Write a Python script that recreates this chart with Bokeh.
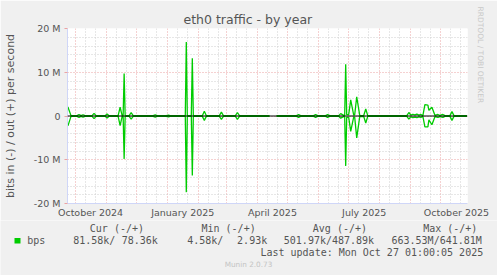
import numpy as np
import pandas as pd
from bokeh.plotting import figure
from bokeh.layouts import column
from bokeh.models import Range1d, FixedTicker, Span, Title, ColumnDataSource
from bokeh.core.properties import value
from bokeh.embed import file_html
from bokeh.resources import INLINE

# ---------------- data (daily averages, Mbit/s) ----------------
dates = [
    "2024-09-23", "2024-09-24", "2024-09-27", "2024-10-03", "2024-10-05", "2024-10-07",
    "2024-10-09", "2024-10-11", "2024-10-18", "2024-10-20", "2024-10-22", "2024-10-31",
    "2024-11-02", "2024-11-04", "2024-11-13", "2024-11-15", "2024-11-17", "2024-11-18",
    "2024-11-19", "2024-11-20", "2024-11-24", "2024-11-26", "2024-11-28", "2024-12-18",
    "2024-12-20", "2024-12-22", "2024-12-31", "2025-01-02", "2025-01-04", "2025-01-19",
    "2025-01-20", "2025-01-21", "2025-01-25", "2025-01-26", "2025-01-27", "2025-02-05",
    "2025-02-07", "2025-02-09", "2025-02-22", "2025-02-24", "2025-02-26", "2025-03-10",
    "2025-03-12", "2025-03-14", "2025-04-13", "2025-04-16", "2025-04-20", "2025-05-10",
    "2025-05-12", "2025-05-14", "2025-05-27", "2025-05-29", "2025-05-31", "2025-06-08",
    "2025-06-10", "2025-06-12", "2025-06-21", "2025-06-23", "2025-06-26", "2025-06-27",
    "2025-06-28", "2025-06-29", "2025-07-01", "2025-07-03", "2025-07-06", "2025-07-07",
    "2025-07-09", "2025-07-12", "2025-07-16", "2025-07-18", "2025-07-20", "2025-08-28",
    "2025-08-30", "2025-09-01", "2025-09-03", "2025-09-05", "2025-09-07", "2025-09-09",
    "2025-09-11", "2025-09-13", "2025-09-15", "2025-09-18", "2025-09-19", "2025-09-22",
    "2025-09-25", "2025-09-28", "2025-09-30", "2025-10-03", "2025-10-05", "2025-10-10",
    "2025-10-12", "2025-10-14", "2025-10-27",
]
out_mbps = [
    2.0, 2.0, 0.08, 0.08, 0.35, 0.08,
    0.28, 0.08, 0.08, 0.60, 0.08, 0.08,
    0.45, 0.08, 0.08, 2.0, 0.10, 0.10,
    9.7, 0.10, 0.08, 0.75, 0.08, 0.08,
    0.25, 0.08, 0.08, 0.20, 0.08, 0.08,
    16.9, 0.08, 0.08, 13.2, 0.08, 0.08,
    1.1, 0.08, 0.08, 0.9, 0.08, 0.08,
    0.8, 0.08, 0.08, np.nan, 0.08, 0.08,
    0.35, 0.08, 0.08, 0.35, 0.08, 0.08,
    0.35, 0.08, 0.08, 0.55, 0.15, 0.15,
    11.8, 0.30, 0.30, 3.7, 0.20, 0.30,
    4.4, 0.15, 0.10, 1.6, 0.08, 0.08,
    0.8, 0.2, 0.4, 0.25, 0.45, 0.2,
    0.35, 0.1, 2.6, 2.5, 1.3, 2.0,
    0.15, 0.35, 0.12, 0.35, 0.08, 0.08,
    1.0, 0.08, 0.08,
]
in_mbps = [
    2.2, 2.2, 0.08, 0.08, 0.30, 0.08,
    0.25, 0.08, 0.08, 0.60, 0.08, 0.08,
    0.45, 0.08, 0.08, 2.2, 0.10, 0.10,
    9.8, 0.10, 0.08, 0.70, 0.08, 0.08,
    0.25, 0.08, 0.08, 0.20, 0.08, 0.08,
    17.4, 0.08, 0.08, 13.6, 0.08, 0.08,
    1.0, 0.08, 0.08, 0.75, 0.08, 0.08,
    0.8, 0.08, 0.08, np.nan, 0.08, 0.08,
    0.30, 0.08, 0.08, 0.30, 0.08, 0.08,
    0.30, 0.08, 0.08, 0.50, 0.15, 0.15,
    11.4, 0.30, 0.30, 3.5, 0.20, 0.30,
    5.0, 0.15, 0.10, 1.6, 0.08, 0.08,
    0.7, 0.2, 0.4, 0.25, 0.4, 0.2,
    0.3, 0.1, 2.5, 2.5, 0.9, 2.0,
    0.15, 0.3, 0.12, 0.3, 0.08, 0.08,
    1.0, 0.08, 0.08,
]

x_start, x_end = "2024-09-23 12:00", "2025-10-27 12:00"
x_tick_dates = ["2024-10-16 12:00", "2025-01-16 12:00", "2025-04-16 00:00",
                "2025-07-16 12:00", "2025-10-16 12:00"]
x_tick_labels = ["October 2024", "January 2025", "April 2025", "July 2025", "October 2025"]
y_ticks = [-20e6, -10e6, 0.0, 10e6, 20e6]
y_tick_labels = ["-20 M", "-10 M", "0", "10 M", "20 M"]

title = "eth0 traffic - by year"
y_label = "bits in (-) / out (+) per second"
side_text = "RRDTOOL / TOBI OETIKER"
legend_headers = ["Cur (-/+)", "Min (-/+)", "Avg (-/+)", "Max (-/+)"]
legend_series = "bps"
legend_values = ["81.58k/", "78.36k", "4.58k/", "2.93k", "501.97k/487.89k", "663.53M/641.81M"]
last_update = "Last update: Mon Oct 27 01:00:05 2025"
footer = "Munin 2.0.73"


def ms(s):
    return pd.Timestamp(s).value / 1e6


GREEN = "#00cc00"
FONT_C = "#555555"
AXIS_C = "#CFD6F8"
MGRID_C = "#eba3a3"
GRID_C = "#cfcfcf"
BG = "#f0f0f0"

src = ColumnDataSource(dict(
    date=pd.to_datetime(dates),
    out=np.array(out_mbps) * 1e6,
    inn=-np.array(in_mbps) * 1e6,
))

# ---------------- main chart ----------------
p = figure(width=497, height=220, x_axis_type="datetime",
           x_range=Range1d(ms(x_start), ms(x_end)), y_range=Range1d(-20e6, 20e6),
           output_backend="svg", toolbar_location=None,
           min_border_left=67, min_border_right=30, min_border_top=28, min_border_bottom=17,
           background_fill_color="white", border_fill_color=BG, outline_line_color=None)
p.frame_align = False

p.title.text = title
p.title.align = "left"
p.title.offset = 116
p.title.vertical_align = "top"
p.title.standoff = 0
p.title.text_font = "DejaVu Sans"
p.title.text_font_size = "12.5px"
p.title.text_font_style = "normal"
p.title.text_color = FONT_C

p.add_layout(Title(text=side_text, align="left", offset=-22, text_font="DejaVu Sans",
                   text_font_size="7.5px", text_font_style="normal", text_color="#c8c8c8",
                   standoff=17), "right")

month_starts = [t.value / 1e6 for t in pd.date_range("2024-10-01", "2025-10-01", freq="MS")]
minor_x = []
for t in pd.date_range("2024-09-01", "2025-10-01", freq="MS"):
    for dday in (10, 20):
        minor_x.append((t + pd.Timedelta(days=dday)).value / 1e6)
p.xgrid.ticker = FixedTicker(ticks=month_starts, minor_ticks=minor_x)
p.xgrid.grid_line_color = MGRID_C
p.xgrid.grid_line_dash = "1 2"
p.xgrid.minor_grid_line_color = GRID_C
p.xgrid.minor_grid_line_dash = "1 2"

minor_y = [v * 1e6 for v in range(-18, 19, 2) if v % 10 != 0]
p.ygrid.ticker = FixedTicker(ticks=y_ticks, minor_ticks=minor_y)
p.ygrid.grid_line_color = MGRID_C
p.ygrid.grid_line_dash = "1 2"
p.ygrid.minor_grid_line_color = GRID_C
p.ygrid.minor_grid_line_dash = "1 2"

xt = [ms(s) for s in x_tick_dates]
p.xaxis.ticker = FixedTicker(ticks=xt)
p.xaxis.major_label_overrides = dict(zip(xt, x_tick_labels))
p.xaxis.axis_line_color = AXIS_C
p.xaxis.major_tick_line_color = None
p.xaxis.major_tick_out = 0
p.xaxis.major_tick_in = 0
p.xaxis.minor_tick_line_color = None
p.xaxis.major_label_standoff = 3
p.xaxis.major_label_text_font = "DejaVu Sans"
p.xaxis.major_label_text_font_size = "9.5px"
p.xaxis.major_label_text_color = FONT_C

p.yaxis.ticker = FixedTicker(ticks=y_ticks)
p.yaxis.major_label_overrides = dict(zip(y_ticks, y_tick_labels))
p.yaxis.axis_line_color = AXIS_C
p.yaxis.major_tick_line_color = MGRID_C
p.yaxis.major_tick_out = 3
p.yaxis.major_tick_in = 0
p.yaxis.minor_tick_line_color = None
p.yaxis.major_label_standoff = 4
p.yaxis.major_label_text_font = "DejaVu Sans"
p.yaxis.major_label_text_font_size = "9.5px"
p.yaxis.major_label_text_color = FONT_C
p.yaxis.axis_label = y_label
p.yaxis.axis_label_text_font = "DejaVu Sans"
p.yaxis.axis_label_text_font_size = "11px"
p.yaxis.axis_label_text_font_style = "normal"
p.yaxis.axis_label_text_color = FONT_C
p.yaxis.axis_label_standoff = 14

p.line(x="date", y="inn", source=src, line_color=GREEN, line_width=1.3)
p.line(x="date", y="out", source=src, line_color=GREEN, line_width=1.3)
p.add_layout(Span(location=0, dimension="width", line_color="black", line_width=1))

# ---------------- legend strip (canvas rows 220..275) ----------------
q = figure(width=497, height=55, x_range=Range1d(0, 497), y_range=Range1d(275, 220),
           output_backend="svg", toolbar_location=None, x_axis_location=None,
           y_axis_location=None, min_border=0, background_fill_color=BG,
           border_fill_color=BG, outline_line_color=None)
q.frame_align = False
q.grid.visible = False

mono = value("DejaVu Sans Mono")
fs = value("10px")
q.text(x=[89.3, 201, 312.3, 422.7], y=[227.5] * 4, text=legend_headers, text_font=mono,
       text_font_size=fs, text_color=FONT_C, text_baseline="middle")
q.text(x=[26.7], y=[240], text=[legend_series], text_font=mono,
       text_font_size=fs, text_color=FONT_C, text_baseline="middle")
q.text(x=[72.7, 121.2, 186.7, 236.6, 283.3, 391], y=[240] * 6, text=legend_values,
       text_font=mono, text_font_size=fs, text_color=FONT_C, text_baseline="middle")
q.text(x=[482.7], y=[252], text=[last_update], text_font=mono,
       text_font_size=fs, text_color=FONT_C, text_baseline="middle", text_align="right")
q.text(x=[248], y=[264], text=[footer], text_font=value("DejaVu Sans"),
       text_font_size=value("7.3px"), text_color="#c4c4c4", text_baseline="middle",
       text_align="center")
q.quad(left=[14], right=[20], top=[237.5], bottom=[243], fill_color=GREEN, line_color=None)

open("out.html", "w").write(file_html(column(p, q, spacing=0), INLINE))
